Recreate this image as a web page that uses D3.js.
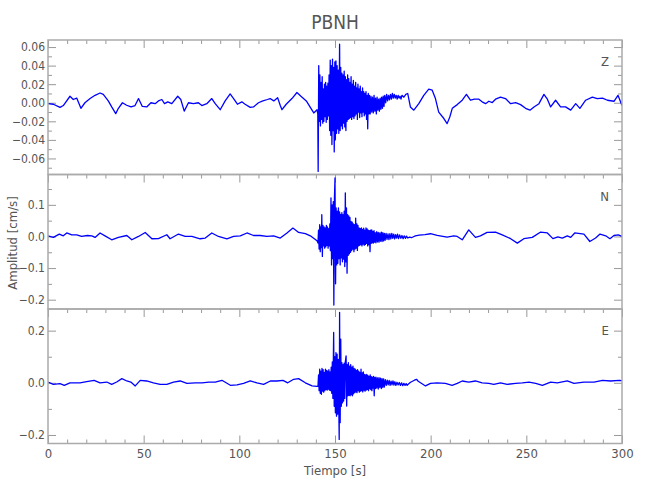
<!DOCTYPE html>
<html><head><meta charset="utf-8">
<script src="https://cdn.jsdelivr.net/npm/d3@7"></script>
<style>
body{margin:0;background:#fff}
text{font-family:"Liberation Sans Narrow","DejaVu Sans Condensed",sans-serif;fill:#555}
</style>
</head><body>
<svg id="c" width="650" height="500"></svg>
<script>
const title = "PBNH";
const components = ["Z","N","E"];
const xLabel = "Tiempo [s]";
const yLabel = "Amplitud [cm/s]";

// [time s, amplitude cm/s]
const zSeries = [[0,-0.001],[2.8,-0.0016],[6.3,-0.005],[8,-0.003],[11.5,0.007],[13.2,0.0035],[15,0.005],[17.2,-0.006],[19.3,0],[22,0.0045],[24.6,0.008],[27.2,0.0105],[28.9,0.009],[31.5,0.002],[33.3,-0.0045],[35.4,-0.0117],[36.8,-0.006],[38.9,0],[41.1,-0.0027],[43.4,-0.0045],[45.5,-0.003],[47.3,0.0045],[49.3,-0.004],[51.6,-0.0045],[53.8,0],[56,-0.001],[57.7,0.002],[59.5,0.0035],[60.9,-0.001],[62.6,0.001],[64.7,-0.001],[67.8,0.007],[69.4,0.0035],[71.2,-0.009],[73.4,0],[76,-0.001],[78.6,0],[80.4,-0.003],[83,-0.001],[85.6,0.0045],[87.4,-0.001],[90,-0.0075],[92.6,0.002],[95.2,0.0095],[97,0.0045],[99,-0.0016],[101.3,0.001],[103,-0.0016],[105.7,-0.005],[107.4,-0.0045],[110,0],[112.3,0.002],[114.7,0.0035],[116.1,0.0045],[118,0.002],[120,0.0055],[121.4,-0.003],[122.3,-0.0075],[124.5,-0.0016],[127.5,0.0045],[130.1,0.011],[132.2,0.007],[135,0.002],[137.1,-0.005],[138.9,-0.011],[140.6,-0.0075],
[141.0,-0.012],[141.2,-0.074],[141.5,0.040],[141.8,-0.020],[142.1,0.030],[142.4,-0.025],[142.7,0.022],[143.0,-0.018],[143.3,0.028],[143.6,-0.022],[143.9,0.015],[144.2,-0.020],[144.5,0.020],[144.8,-0.015],[145.1,0.022],[145.4,-0.021],[145.7,0.018],[146.0,-0.018],[146.3,0.021],[146.6,-0.014],[146.9,0.030],[147.2,-0.030],[147.5,0.046],[147.8,-0.035],[148.1,0.040],[148.4,-0.045],[148.7,0.047],[149.0,-0.030],[149.3,0.038],[149.6,-0.053],[149.9,0.044],[150.2,-0.040],[150.5,0.045],[150.8,-0.033],[151.1,0.040],[151.4,-0.028],[151.7,0.035],[152.0,-0.033],[152.4,0.063],[152.7,-0.030],[153.0,0.038],[153.3,-0.025],[153.6,0.032],[153.9,-0.028],[154.2,0.030],[154.5,-0.022],[154.8,0.034],[155.1,-0.026],[155.4,0.028],[155.7,-0.030],[156.0,0.025],[156.3,-0.020],[156.6,0.030],[156.9,-0.018],[157.2,0.026],[157.5,-0.017],[157.8,0.022],[158.1,-0.016],[158.4,0.028],[158.7,-0.018],[159.0,0.020],[159.3,-0.015],[159.6,0.024],[159.9,-0.017],[160.2,0.018],[160.5,-0.014],[160.8,0.022],[161.1,-0.012],[161.4,0.016],[161.7,-0.018],[162.0,0.020],[162.3,-0.010],[162.6,0.015],[162.9,-0.016],[163.2,0.018],[163.5,-0.011],[163.8,0.012],[164.1,-0.015],[164.4,0.016],[164.7,-0.010],[165.0,0.012],[165.3,-0.014],[165.6,0.010],[165.9,-0.012],[166.2,0.012],[166.5,-0.018],[166.8,0.008],[167.1,-0.028],[167.4,0.010],[167.7,-0.012],[168.0,0.008],[168.4,-0.012],[168.8,0.007],[169.2,-0.010],[169.6,0.006],[170.0,-0.011],[170.4,0.008],[170.8,-0.009],[171.2,0.005],[171.6,-0.012],[172.0,0.006],[172.4,-0.008],[172.8,0.004],[173.2,-0.009],[173.6,0.005],[174.0,-0.007],[174.4,0.006],[174.8,-0.006],[175.2,0.007],[175.6,-0.004],[176.0,0.008],[176.5,0.000],[177.0,0.009],[177.5,0.002],[178.0,0.008],[178.5,0.003],[179.0,0.009],[179.5,0.004],[180.0,0.010],[180.5,0.005],[181.0,0.009],[181.5,0.005],[182.0,0.008],[182.5,0.004],[183.0,0.008],[183.5,0.005],[184.0,0.007],[184.5,0.004],[185.0,0.008],[186.0,0.006],[187.0,0.009],[188.0,0.010],[189.4,-0.0045],[191.2,-0.008],[193.8,-0.001],
[196.4,0.008],[199,0.0146],[200.8,0.0135],[202.5,0.0045],[204.2,-0.010],[206.9,-0.017],[208.6,-0.0225],[210,-0.0153],[211.3,-0.006],[213.9,-0.002],[216.5,0.0027],[218.7,0.009],[220.8,0.0027],[222.9,0.0038],[225.2,0.0038],[226.9,0.001],[228.7,-0.001],[230.4,0.0016],[232.2,0.0002],[233.9,0.0038],[236.5,0.006],[239.1,0.0045],[241.8,-0.001],[244.4,0.0002],[247,-0.002],[249.6,-0.006],[251.9,-0.008],[254,-0.0045],[256.6,-0.001],[259.2,0.009],[261,0.0038],[262.7,-0.0045],[265.3,0.0027],[267.9,-0.0045],[270.5,-0.0045],[273.2,-0.008],[275.8,-0.001],[278,-0.006],[281,0.0027],[284.5,0.006],[287.1,0.0045],[289.8,0.005],[292.4,0.0027],[295.8,0.0016],[297.9,0.008],[300,-0.003]];

const nSeries = [[0,0.002],[2.8,-0.003],[5.9,0.0075],[8,0.002],[9.8,0.011],[12.4,0.005],[15,0.005],[17.6,0],[20.6,0.003],[22.9,0.002],[24.6,-0.003],[27.2,0.011],[29.8,0.002],[33.3,-0.0105],[36.8,-0.003],[41.2,0.003],[43.8,-0.0105],[47.3,0],[50.8,0.0127],[54.3,-0.0073],[57.7,-0.007],[62.1,0.0054],[63.8,-0.0073],[68.2,0.0076],[71.7,0],[75.2,0],[79.5,-0.0073],[82.2,-0.005],[85.6,0.011],[89.1,0],[93.5,-0.0073],[97,0],[100.5,0.002],[104,0.011],[107.4,0.003],[110.9,0.003],[114.4,0],[117.9,0.002],[121.4,-0.005],[124.9,0.011],[128,0.0266],[131,0.0127],[134.5,0.009],[137.1,0.002],[140.6,-0.0137],
[141.1,-0.021],[141.4,0.020],[141.7,-0.040],[142.0,0.037],[142.3,-0.048],[142.6,0.030],[142.9,-0.035],[143.1,0.069],[143.4,-0.063],[143.7,0.035],[144.0,-0.030],[144.3,0.030],[144.6,-0.037],[144.9,0.027],[145.2,-0.033],[145.5,0.035],[145.8,-0.028],[146.1,0.030],[146.4,-0.037],[146.7,0.025],[147.0,-0.030],[147.3,0.040],[147.6,-0.045],[147.9,0.122],[148.2,-0.090],[148.5,0.100],[148.8,-0.070],[149.1,0.110],[149.4,-0.217],[149.7,0.120],[150.0,0.185],[150.3,-0.150],[150.6,0.090],[150.9,-0.090],[151.2,0.080],[151.5,-0.085],[151.8,0.090],[152.1,-0.070],[152.4,0.078],[152.7,-0.090],[153.0,0.070],[153.3,-0.068],[153.6,0.075],[153.9,-0.080],[154.2,0.069],[154.5,-0.072],[154.8,0.080],[155.1,-0.095],[155.4,0.138],[155.7,-0.080],[156.0,0.090],[156.3,-0.116],[156.6,0.069],[156.9,-0.060],[157.2,0.065],[157.5,-0.055],[157.8,0.060],[158.1,-0.050],[158.4,0.048],[158.7,-0.045],[159.0,0.045],[159.3,-0.040],[159.6,0.040],[159.9,-0.048],[160.2,0.037],[160.5,-0.040],[160.8,0.058],[161.1,-0.037],[161.4,0.040],[161.7,-0.044],[162.0,0.035],[162.3,-0.030],[162.6,0.027],[162.9,-0.028],[163.2,0.025],[163.5,-0.026],[163.8,0.027],[164.1,-0.030],[164.4,0.022],[164.7,-0.024],[165.0,0.026],[165.3,-0.028],[165.6,0.020],[165.9,-0.025],[166.2,0.027],[166.5,-0.022],[166.8,0.024],[167.1,-0.030],[167.4,0.020],[167.7,-0.026],[168.0,0.018],[168.3,-0.048],[168.6,0.020],[168.9,-0.022],[169.2,0.021],[169.5,-0.020],[169.8,0.016],[170.1,-0.021],[170.4,0.018],[170.7,-0.018],[171.0,0.012],[171.4,-0.020],[171.8,0.015],[172.2,-0.017],[172.6,0.013],[173.0,-0.018],[173.4,0.011],[173.8,-0.015],[174.2,0.014],[174.6,-0.016],[175.0,0.012],[175.4,-0.014],[175.8,0.010],[176.2,-0.012],[176.7,0.010],[177.2,-0.009],[177.7,0.008],[178.2,-0.010],[178.7,0.009],[179.2,-0.008],[179.7,0.010],[180.2,-0.006],[180.7,0.007],[181.2,-0.008],[181.7,0.006],[182.2,-0.005],[182.7,0.007],[183.2,-0.007],[183.8,0.005],[184.4,-0.006],[185.0,0.003],[185.6,-0.007],[186.2,0.002],[186.8,-0.006],[187.4,0.001],[188.0,-0.005],[189.0,-0.002],[190.0,-0.004],[191.0,-0.001],[192.0,0.002],
[194,0.004],[197,0.006],[199.9,0.0086],[203.4,0.0033],[208.6,-0.002],[212.1,0.002],[213.9,0],[216.5,-0.0105],[219.9,0.021],[223.4,-0.003],[226,0.002],[229.5,0.0127],[233.9,0.014],[237.4,0.005],[241.8,-0.007],[245.3,-0.021],[248.7,-0.007],[253.1,-0.003],[257.5,0.014],[261,0.011],[263.9,-0.007],[266.5,-0.0015],[268.8,-0.005],[271.4,0.002],[273.2,-0.003],[275.3,0.011],[280.1,0.0076],[283.2,-0.016],[286.2,-0.005],[288.5,0.0076],[291.5,0.002],[293.7,-0.007],[295.8,0.003],[298.1,0.005],[300,0]];

const eSeries = [[0,0.003],[2.8,-0.006],[6.3,-0.003],[8.5,-0.0096],[11.5,0],[16.7,0],[20.2,0.0045],[24.1,0.0096],[27.2,0],[30.7,0.003],[33.3,-0.006],[35.9,0.003],[38.6,0.016],[41.2,0.007],[43.3,0.003],[45.6,-0.012],[48.2,0.0096],[51.6,0.007],[55.1,0],[58.6,-0.006],[62.1,-0.006],[65.6,0.003],[69.1,0.007],[72.6,-0.002],[77,0],[80.5,0],[84,0.003],[87.4,0.003],[90.9,0.0096],[95.3,-0.0096],[98.8,-0.008],[102.2,-0.002],[105.7,0.007],[109.2,0],[112.7,-0.006],[116.2,0.007],[119.7,0.007],[122.8,0.0096],[125.3,0],[128.4,0.0135],[131,0.016],[134.5,0],[138,-0.012],[140.6,-0.0135],
[141.1,-0.014],[141.4,0.030],[141.7,-0.030],[142.0,0.052],[142.3,-0.040],[142.6,0.045],[142.9,-0.044],[143.2,0.055],[143.5,-0.032],[143.8,0.050],[144.1,-0.036],[144.4,0.040],[144.7,-0.030],[145.0,0.052],[145.3,-0.025],[145.6,0.048],[145.9,-0.028],[146.2,0.045],[146.5,-0.024],[146.8,0.050],[147.1,-0.028],[147.4,0.042],[147.7,-0.030],[148.0,0.060],[148.3,-0.040],[148.6,0.080],[148.9,-0.060],[149.3,0.193],[149.6,-0.090],[149.9,0.100],[150.2,-0.115],[150.5,0.116],[150.8,-0.128],[151.1,0.110],[151.4,-0.120],[151.7,0.090],[152.0,-0.100],[152.2,-0.217],[152.4,0.270],[152.7,-0.153],[153.0,0.167],[153.3,-0.090],[153.6,0.077],[153.9,-0.077],[154.2,0.070],[154.5,-0.070],[154.8,0.075],[155.1,-0.060],[155.4,0.080],[155.8,0.103],[156.1,-0.089],[156.4,0.070],[156.7,-0.050],[157.0,0.077],[157.3,-0.048],[157.6,0.064],[157.9,-0.050],[158.2,0.070],[158.5,-0.045],[158.8,0.060],[159.1,-0.050],[159.4,0.064],[159.7,-0.042],[160.0,0.055],[160.3,-0.038],[160.6,0.052],[160.9,-0.035],[161.2,0.048],[161.5,-0.038],[161.8,0.050],[162.1,-0.030],[162.4,0.045],[162.7,-0.036],[163.0,0.040],[163.3,-0.032],[163.6,0.052],[163.9,-0.030],[164.2,0.038],[164.5,-0.035],[164.8,0.042],[165.1,-0.028],[165.4,0.032],[165.7,-0.032],[166.0,0.030],[166.3,-0.028],[166.6,0.032],[166.9,-0.025],[167.2,0.028],[167.5,-0.030],[167.8,0.025],[168.1,-0.022],[168.4,0.030],[168.7,-0.026],[169.0,0.024],[169.3,-0.030],[169.6,0.022],[169.9,-0.020],[170.2,0.025],[170.5,-0.050],[170.8,0.020],[171.1,-0.022],[171.4,0.022],[171.8,-0.020],[172.2,0.019],[172.6,-0.024],[173.0,0.020],[173.4,-0.018],[173.8,0.018],[174.2,-0.022],[174.6,0.016],[175.0,-0.018],[175.4,0.015],[175.8,-0.016],[176.3,0.012],[176.8,-0.010],[177.3,0.010],[177.8,-0.008],[178.3,0.009],[178.8,-0.010],[179.3,0.006],[179.8,-0.008],[180.3,0.007],[180.8,-0.009],[181.3,0.004],[181.8,-0.010],[182.4,0.002],[183.0,-0.008],[183.6,0.001],[184.2,-0.010],[184.8,0.000],[185.4,-0.011],[186.0,-0.002],[186.6,-0.010],[187.2,-0.003],[187.7,-0.0096],[188.5,-0.004],[189.5,0.002],[190.5,0.006],[191.5,0.010],[192.6,0.0135],[193.5,0.006],
[194.7,0],[197.3,-0.012],[199.9,-0.002],[203.4,0],[207.7,-0.002],[211.2,-0.0096],[213.9,-0.002],[216.5,0.007],[219.9,0.003],[223.4,0.007],[226.9,0],[230.4,-0.002],[233,-0.006],[236.5,0],[240,-0.006],[244.4,-0.002],[247.9,0],[251.4,0.003],[254.9,-0.002],[258.4,-0.0096],[262.7,0.003],[266.2,0],[271.4,0.007],[274.9,-0.002],[280.1,0.003],[285.4,0.003],[289.8,0.0096],[294.1,0.007],[298.5,0.0096],[300,0.008]];

const xDomain = [0, 300];
const xMajorTicks = [0,50,100,150,200,250,300];
const xMinorTicks = [10,20,30,40,60,70,80,90,110,120,130,140,160,170,180,190,210,220,230,240,260,270,280,290];
const zDomain = [-0.0773, 0.0676];
const nDomain = [-0.2295, 0.196];
const eDomain = [-0.2327, 0.283];
const zMajorTicks = [-0.06,-0.04,-0.02,0,0.02,0.04,0.06];
const zMinorTicks = [-0.07,-0.05,-0.03,-0.01,0.01,0.03,0.05];
const nMajorTicks = [-0.2,-0.1,0,0.1];
const nMinorTicks = [-0.15,-0.05,0.05,0.15];
const eMajorTicks = [-0.2,0,0.2];
const eMinorTicks = [-0.1,0.1];
const zTickLabels = ["\u22120.06","\u22120.04","\u22120.02","0.00","0.02","0.04","0.06"];
const nTickLabels = ["\u22120.2","\u22120.1","0.0","0.1"];
const eTickLabels = ["\u22120.2","0.0","0.2"];

const panels = [
  {name: components[0], data: zSeries, domain: zDomain, major: zMajorTicks, minor: zMinorTicks, labels: zTickLabels},
  {name: components[1], data: nSeries, domain: nDomain, major: nMajorTicks, minor: nMinorTicks, labels: nTickLabels},
  {name: components[2], data: eSeries, domain: eDomain, major: eMajorTicks, minor: eMinorTicks, labels: eTickLabels}
];

const svg = d3.select("#c");
const left = 48, right = 622, top0 = 40, ph = 134.5;
const x = d3.scaleLinear().domain(xDomain).range([left, right]);
const TICK = "#999", FRAME = "#aaa";

svg.append("text").attr("x", 335).attr("y", 29).attr("text-anchor","middle")
  .style("font-size","19px").text(title);

panels.forEach((p, i) => {
  const y0 = top0 + i*ph, y1 = y0 + ph;
  const y = d3.scaleLinear().domain(p.domain).range([y1, y0]);
  const g = svg.append("g");
  const cid = "clip" + i;
  svg.append("clipPath").attr("id", cid).append("rect")
    .attr("x", left).attr("y", y0).attr("width", right-left).attr("height", ph);

  const styleAxis = sel => { sel.select(".domain").remove(); sel.selectAll("line").attr("stroke", TICK); sel.selectAll("text").attr("fill","#555"); };

  g.append("g").attr("transform", `translate(${left},0)`)
    .call(d3.axisLeft(y).tickValues(p.major).tickSize(-8).tickPadding(3)
      .tickFormat((d,k) => p.labels[k]))
    .call(styleAxis)
    .selectAll("text").style("font-size","12px").style("font-family",null);
  g.append("g").attr("transform", `translate(${left},0)`)
    .call(d3.axisLeft(y).tickValues(p.minor).tickSize(-4).tickFormat(""))
    .call(styleAxis);
  g.append("g").attr("transform", `translate(${right},0)`)
    .call(d3.axisRight(y).tickValues(p.major).tickSize(-8).tickFormat(""))
    .call(styleAxis);
  g.append("g").attr("transform", `translate(${right},0)`)
    .call(d3.axisRight(y).tickValues(p.minor).tickSize(-4).tickFormat(""))
    .call(styleAxis);
  g.append("g").attr("transform", `translate(0,${y0})`)
    .call(d3.axisTop(x).tickValues(xMajorTicks).tickSize(-8).tickFormat(""))
    .call(styleAxis);
  g.append("g").attr("transform", `translate(0,${y0})`)
    .call(d3.axisTop(x).tickValues(xMinorTicks).tickSize(-4).tickFormat(""))
    .call(styleAxis);
  if (i === panels.length - 1) {
    g.append("g").attr("transform", `translate(0,${y1})`)
      .call(d3.axisBottom(x).tickValues(xMajorTicks).tickSize(-8).tickPadding(5).tickFormat(d3.format("d")))
      .call(styleAxis)
      .selectAll("text").style("font-size","13px");
    g.append("g").attr("transform", `translate(0,${y1})`)
      .call(d3.axisBottom(x).tickValues(xMinorTicks).tickSize(-4).tickFormat(""))
      .call(styleAxis);
  }

  g.append("path").datum(p.data)
    .attr("clip-path", `url(#${cid})`)
    .attr("fill","none").attr("stroke","#0000ff").attr("stroke-width",1.3)
    .attr("stroke-linejoin","round")
    .attr("d", d3.line().x(d => x(d[0])).y(d => y(d[1])));

  g.append("rect").attr("x", left).attr("y", y0).attr("width", right-left).attr("height", ph)
    .attr("fill","none").attr("stroke", FRAME).attr("stroke-width",1.5);

  svg.append("text").attr("x", 609).attr("y", y0 + 26).attr("text-anchor","end")
    .style("font-size","13px").text(p.name);
});

svg.append("text").attr("x", 335).attr("y", 475).attr("text-anchor","middle")
  .style("font-size","13px").text(xLabel);
svg.append("text").attr("transform","translate(17,243) rotate(-90)").attr("text-anchor","middle")
  .style("font-size","13px").text(yLabel);
</script>
</body></html>
